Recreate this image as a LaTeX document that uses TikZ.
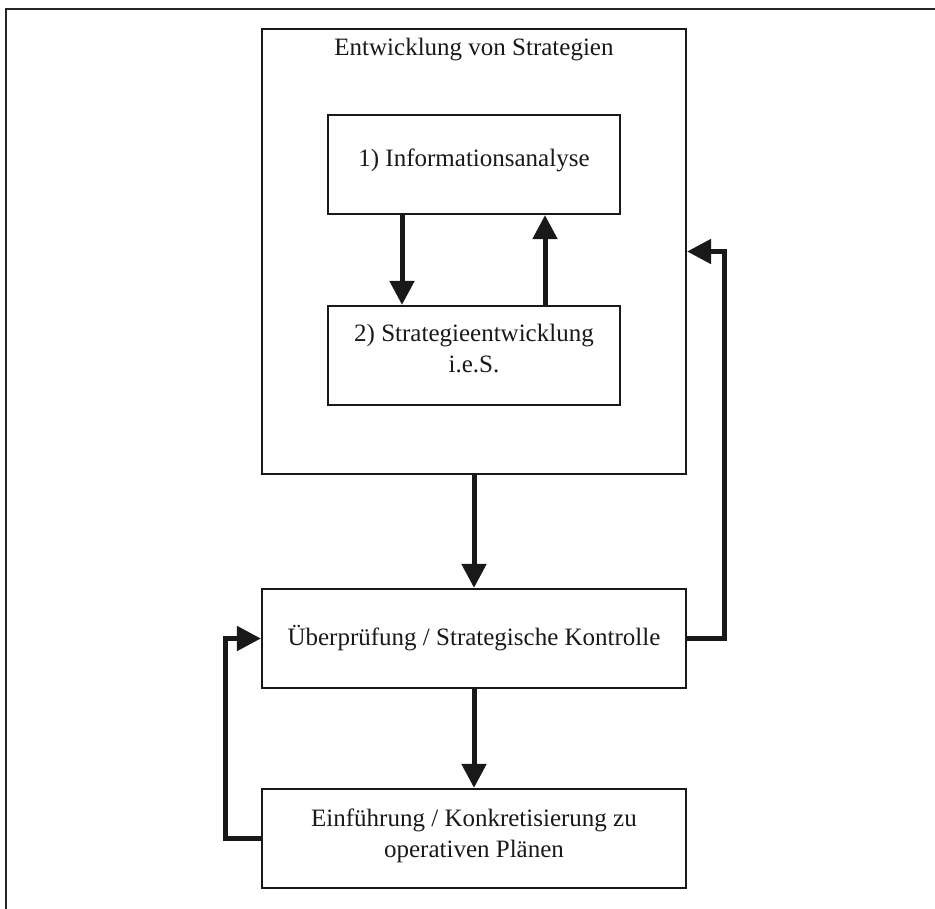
\documentclass[tikz,border=0pt]{standalone}
\usepackage{fontspec}
\setmainfont{Liberation Serif}
\usetikzlibrary{arrows.meta}
\begin{document}
\begin{tikzpicture}[x=1pt,y=-1pt,
  box/.style={draw=black!90, line width=2.2pt, inner sep=0pt},
  lbl/.style={inner sep=0pt, anchor=base, align=center, text=black!90, font=\fontsize{25}{31}\selectfont},
  flow/.style={draw=black!90, line width=5pt, -{Triangle[length=24pt,width=24pt]}, line join=miter},
  framelines/.style={line width=2pt, draw=black!85}]
\useasboundingbox (0,0) rectangle (935,909);
\coordinate (fbl) at (5.5,909);
\coordinate (ftl) at (5.5,9.5);
\coordinate (ftr) at (935,9.5);
\draw[framelines] (fbl) -- (ftl) -- (ftr);
\node[box, minimum width=424pt, minimum height=445pt] (big) at (474,251.5) {};
\node[box, minimum width=292pt, minimum height=99pt] (b1) at (474,164.5) {};
\node[box, minimum width=292pt, minimum height=99pt] (b2) at (474,355.5) {};
\node[box, minimum width=424pt, minimum height=99pt] (b3) at (474,638.5) {};
\node[box, minimum width=424pt, minimum height=99pt] (b4) at (474,838.5) {};
\node[lbl] (tbig) at (474,56) {Entwicklung von Strategien};
\node[lbl] (t1) at (474,167) {1) Informationsanalyse};
\node[lbl] (t2) at (474,373) {2) Strategieentwicklung\\i.e.S.};
\node[lbl] (t3) at (474,645) {Überprüfung / Strategische Kontrolle};
\node[lbl] (t4) at (474,857) {Einführung / Konkretisierung zu\\operativen Plänen};
\draw[flow] ([xshift=-72pt]b1.south) -- ([xshift=-72pt]b2.north);
\draw[flow] ([xshift=71pt]b2.north) -- ([xshift=71pt]b1.south);
\draw[flow] (big.south) -- (b3.north);
\draw[flow] (b3.south) -- (b4.north);
\draw[flow] (b3.east) -- ++(37,0) |- (big.east);
\draw[flow] (b4.west) -- ++(-35,0) |- (b3.west);
\end{tikzpicture}
\end{document}
